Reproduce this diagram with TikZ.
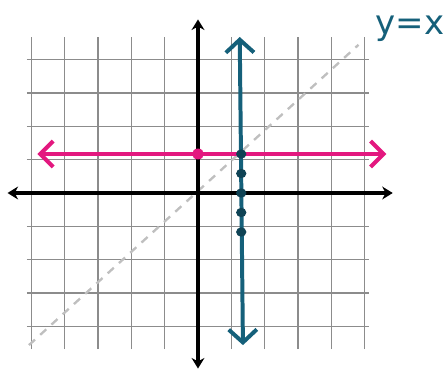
\documentclass[tikz,border=0pt]{standalone}
\usepackage{fontspec}
\usetikzlibrary{arrows.meta}
\definecolor{pinkline}{HTML}{E3187F}
\definecolor{tealline}{HTML}{15607A}
\newfontfamily\handfont{DejaVu Sans}

\begin{document}
\begin{tikzpicture}[x=0.642cm,y=0.585cm]
  \useasboundingbox (-9.252,-9.128) rectangle (11.682,9.897);
  \draw[black!45,line width=1.3pt] (-8,-8) grid (8,8);
  \draw[black!25,line width=2pt,dash pattern=on 7pt off 6pt] (-7.9,-7.8) -- (7.5,7.6);
  \draw[line width=3pt,-{Stealth[length=9pt,width=11pt]}] (-0.1,0) -- (9.1,0);
  \draw[line width=3pt,-{Stealth[length=9pt,width=11pt]}] (0.1,0) -- (-8.9,0);
  \draw[line width=3pt,-{Stealth[length=9pt,width=11pt]}] (0,-0.1) -- (0,8.9);
  \draw[line width=3pt,-{Stealth[length=9pt,width=11pt]}] (0,0.1) -- (0,-9.0);
  \draw[pinkline,line width=3.4pt,{Straight Barb[length=11pt,width=22pt]}-{Straight Barb[length=11pt,width=22pt]}]
    (-7.5,2) -- (8.8,2);
  \draw[tealline,line width=3.4pt,{Straight Barb[length=11pt,width=24pt]}-{Straight Barb[length=11pt,width=24pt]}]
    (1.95,8.0) -- (2.1,-7.8);
  \fill[pinkline] (0,2) circle (0.28);
  \foreach \y in {2,1,0,-1,-2}
    \fill[tealline!70!black] (2.02,\y) circle (0.24);
  \node[tealline,font=\handfont\fontsize{29}{29}\selectfont] at (9.9,8.4) {y=x};
\end{tikzpicture}
\end{document}
